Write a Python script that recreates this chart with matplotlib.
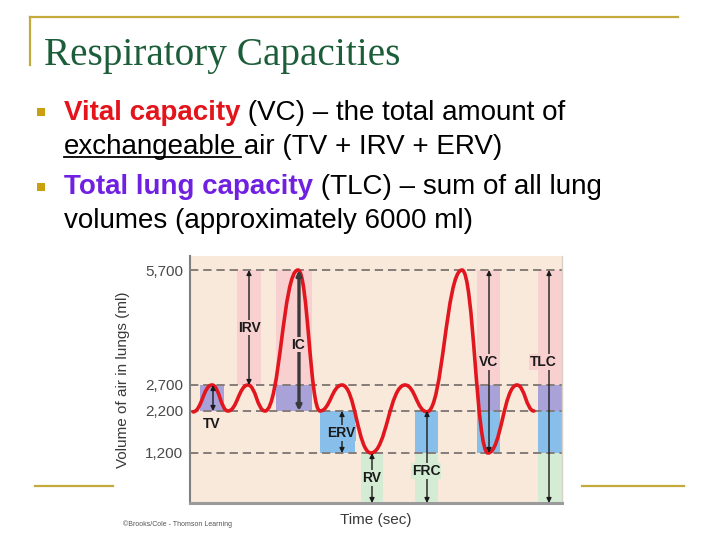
import numpy as np
import matplotlib
matplotlib.use("Agg")
import matplotlib.pyplot as plt
from matplotlib.path import Path
from matplotlib.patches import PathPatch, Rectangle

plt.rcParams['font.family'] = ['Liberation Sans', 'DejaVu Sans']
plt.rcParams['lines.scale_dashes'] = False

# ---------------- slide text ----------------
title = "Respiratory Capacities"
line1 = [("Vital capacity", "#e3141c", "bold"), (" (VC) – the total amount of", "black", "normal")]
line2_under = "exchangeable"
line2_rest = " air (TV + IRV + ERV)"
line3 = [("Total lung capacity", "#7020e0", "bold"), (" (TLC) – sum of all lung", "black", "normal")]
line4 = "volumes (approximately 6000 ml)"

# ---------------- chart data ----------------
# volume ticks (ml)
tick_vals = [1200, 2200, 2700, 5700]
tick_labels = ["1,200", "2,200", "2,700", "5,700"]
# the drawing is schematic: height of each volume above the bottom (px in original)
scale_ml = [0, 1200, 2200, 2700, 5700, 6070]
scale_px = [0, 50, 92, 118, 233, 247]

# spirometer trace, turning points (time, ml)
trace_t = [3, 22, 38, 58, 75, 108, 130, 152, 181, 215, 237, 272, 298, 327, 344]
trace_v = [2180, 2700, 2200, 2700, 2200, 5700, 2200, 2700, 1200, 2700, 2180, 5700, 1200, 2700, 2200]

# volume compartments and their colours
comp_low = [0, 1200, 2200, 2700]
comp_high = [1200, 2200, 2700, 5700]
comp_color = ["#d4ecd4", "#88bfea", "#a8a2d8", "#f8d0d0"]

# labelled bands
band_names = ["TV", "IRV", "IC", "ERV", "RV", "FRC", "VC", "TLC"]
band_start = [10, 47, 86, 130, 171, 225, 287, 348]
band_end = [34, 71, 122, 165, 193, 248, 310, 372]
band_low = [2200, 2700, 2200, 1200, 0, 0, 1200, 0]
band_high = [2700, 5700, 5700, 2200, 1200, 2200, 5700, 5700]
arrow_t = [23, 59, 109, 152, 182, 237, 299, 359]
label_t = [22, 59, 108, 151, 182, 236, 299, 353]
label_v = [1880, 4200, 3750, 1680, 600, 770, 3300, 3300]

bg_color = "#f8e9db"
gold = "#c4aa3c"

fig = plt.figure(figsize=(7.2, 5.4), dpi=100)

# overlay axes in pixel coordinates for the slide decorations
deco = fig.add_axes([0, 0, 1, 1])
deco.set_xlim(0, 720)
deco.set_ylim(540, 0)
deco.axis("off")

deco.plot([30, 678], [17, 17], color=gold, lw=1.6)
deco.plot([30, 30], [17, 65], color=gold, lw=1.6)
deco.plot([35, 113], [486, 486], color=gold, lw=1.6)
deco.plot([582, 684], [486, 486], color=gold, lw=1.6)

deco.text(44, 65, title, family=['Liberation Serif', 'DejaVu Serif'], fontsize=28.3,
          color="#1d5e3a", va="baseline", ha="left")

renderer = fig.canvas.get_renderer()
fs = 20

def draw_runs(x, y, runs):
    for s, c, w in runs:
        t = deco.text(x, y, s, fontsize=fs, color=c, fontweight=w, va="baseline", ha="left")
        bb = t.get_window_extent(renderer)
        x = bb.x1
    return x

for by in [112, 187]:
    deco.add_patch(Rectangle((37, by - 4), 8, 8, color="#c9a010", lw=0))

draw_runs(64, 120, line1)
t_u = deco.text(64, 154, line2_under, fontsize=fs, va="baseline", ha="left")
bb = t_u.get_window_extent(renderer)
deco.plot([64, bb.x1 + 5], [157, 157], color="black", lw=1.3)
draw_runs(bb.x1, 154, [(line2_rest, "black", "normal")])
draw_runs(64, 194, line3)
draw_runs(64, 228, [(line4, "black", "normal")])

deco.text(123, 524, "©Brooks/Cole - Thomson Learning", fontsize=5, color="#555555",
          va="center", ha="left")

# ---------------- chart ----------------
ax = fig.add_axes([190 / 720, 37 / 540, 372 / 720, 247 / 540])

def fwd(v):
    return np.interp(v, scale_ml, scale_px)

def inv(p):
    return np.interp(p, scale_px, scale_ml)

ax.set_yscale("function", functions=(fwd, inv))
ax.set_xlim(0, 372)
ax.set_ylim(0, 6070)
ax.set_facecolor(bg_color)

# coloured bands
for i in range(len(band_names)):
    for lo, hi, c in zip(comp_low, comp_high, comp_color):
        a = max(lo, band_low[i])
        b = min(hi, band_high[i])
        if b > a:
            ax.fill_between([band_start[i], band_end[i]], a, b, color=c, lw=0, zorder=1)

for v in tick_vals:
    ax.axhline(v, color="#857d79", lw=1.4, dashes=(6, 3.5), zorder=2)

# trace
verts = [(trace_t[0], trace_v[0])]
codes = [Path.MOVETO]
for i in range(1, len(trace_t)):
    dt = trace_t[i] - trace_t[i - 1]
    verts += [(trace_t[i - 1] + 0.45 * dt, trace_v[i - 1]),
              (trace_t[i] - 0.45 * dt, trace_v[i]),
              (trace_t[i], trace_v[i])]
    codes += [Path.CURVE4] * 3
ax.add_patch(PathPatch(Path(verts, codes), fill=False, edgecolor="#e2161e", lw=2.6,
                       capstyle="round", zorder=4))

# arrows and labels
for i, name in enumerate(band_names):
    if name == "IC":
        col, lw = "#3a3a3a", 2.4
    else:
        col, lw = "#1a1a1a", 1.0
    ax.annotate("", xy=(arrow_t[i], band_high[i]), xytext=(arrow_t[i], band_low[i]),
                arrowprops=dict(arrowstyle="<|-|>", color=col, lw=lw, mutation_scale=7,
                                shrinkA=0, shrinkB=0), zorder=5)
    lc = bg_color
    if band_low[i] <= label_v[i] <= band_high[i]:
        for lo, hi, c in zip(comp_low, comp_high, comp_color):
            if lo <= label_v[i] < hi:
                lc = c
    ax.text(label_t[i], label_v[i], name, fontsize=10, fontweight="bold", color="#1a1a1a",
            ha="center", va="center", zorder=6,
            bbox=dict(boxstyle="square,pad=0.05", fc=lc, ec="none"))

ax.set_yticks(tick_vals)
ax.set_yticklabels(tick_labels)
ax.set_xticks([])
ax.tick_params(axis="y", length=0, pad=5, labelsize=11, labelcolor="#4a4a4a")
ax.yaxis.set_minor_locator(matplotlib.ticker.NullLocator())

ax.spines["top"].set_visible(False)
ax.spines["right"].set_color("#d9d0c8")
ax.spines["right"].set_linewidth(1)
ax.spines["left"].set_color("#808080")
ax.spines["left"].set_linewidth(1.5)
ax.spines["bottom"].set_color("#9a9a9a")
ax.spines["bottom"].set_linewidth(2.2)

ax.set_ylabel("Volume of air in lungs (ml)", fontsize=11, color="#3a3a3a")
ax.yaxis.set_label_coords(-0.161, 0.5)
ax.set_xlabel("Time (sec)", fontsize=11, color="#3a3a3a")
ax.xaxis.set_label_coords(0.5, -0.04)

fig.savefig("out.png", dpi=100, facecolor="white")
